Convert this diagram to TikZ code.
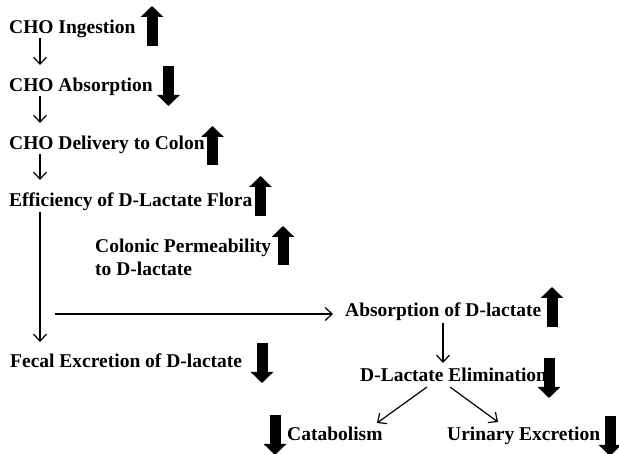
\documentclass[tikz,border=0pt]{standalone}
\usepackage{fontspec}
\setmainfont{Liberation Serif}
\usetikzlibrary{arrows.meta, positioning}

\begin{document}
\begin{tikzpicture}[x=1pt,y=-1pt,
    lbl/.style={anchor=base west,inner sep=0pt,font=\fontsize{19.5}{23}\selectfont\bfseries,align=left},
    flow/.style={line width=1.2pt,-{Straight Barb[length=7pt,width=13pt,line width=1.2pt]}},
    bigarrow/.style={line width=11pt,-{Triangle[width=22pt,length=11pt]}}]
    \useasboundingbox (0,0) rectangle (619,454);

    % Catena dei carboidrati
    \node[lbl] (ingest)  at (9,34)  {CHO Ingestion};
    \node[lbl] (absorb)  at (9,92)  {CHO Absorption};
    \node[lbl] (deliver) at (9,150) {CHO Delivery to Colon};
    \node[lbl] (flora)   at (9,207) {Efficiency of D-Lactate Flora};
    \node[lbl] (perm)    at (95,276) {Colonic Permeability\\to D-lactate};
    \node[lbl] (fecal)   at (10,368) {Fecal Excretion of D-lactate};

    % Ramo del D-lattato
    \node[lbl] (dabs)   at (345,317) {Absorption of D-lactate};
    \node[lbl] (elim)   at (360,382) {D-Lactate Elimination};
    \node[lbl] (catab)  at (287,441) {Catabolism};
    \node[lbl] (urine)  at (447,441) {Urinary Excretion};

    % Frecce sottili
    \draw[flow] ([xshift=31pt,yshift=-4pt]ingest.base west) -- ([xshift=31pt,yshift=27pt]absorb.base west);
    \draw[flow] ([xshift=31pt,yshift=-4pt]absorb.base west) -- ([xshift=31pt,yshift=27pt]deliver.base west);
    \draw[flow] ([xshift=31pt,yshift=-4pt]deliver.base west) -- ([xshift=31pt,yshift=27pt]flora.base west);
    \draw[flow] ([xshift=31pt,yshift=-5pt]flora.base west) -- ([xshift=30pt,yshift=26pt]fecal.base west);
    \coordinate (branch) at (55,314);
    \draw[flow] (branch) -- ([xshift=-12pt]branch -| dabs.west);
    \draw[flow] ([xshift=98pt,yshift=-6pt]dabs.base west) -- ([xshift=83pt,yshift=19pt]elim.base west);
    \draw[flow] ([xshift=67pt,yshift=-5pt]elim.base west) -- ([xshift=90pt,yshift=18pt]catab.base west);
    \draw[flow] ([xshift=90pt,yshift=-5pt]elim.base west) -- ([xshift=51pt,yshift=19pt]urine.base west);

    % Frecce spesse (aumento / diminuzione)
    \draw[bigarrow] (152,46)  -- (152,6);
    \draw[bigarrow] (168.5,66) -- (168.5,106);
    \draw[bigarrow] (212.5,165) -- (212.5,126);
    \draw[bigarrow] (260.5,216) -- (260.5,176);
    \draw[bigarrow] (283,265) -- (283,226);
    \draw[bigarrow] (262,343) -- (262,383);
    \draw[bigarrow] (275,415) -- (275,455);
    \draw[bigarrow] (552,327) -- (552,287);
    \draw[bigarrow] (549,358) -- (549,398);
    \draw[bigarrow] (610,416) -- (610,456);
\end{tikzpicture}
\end{document}
